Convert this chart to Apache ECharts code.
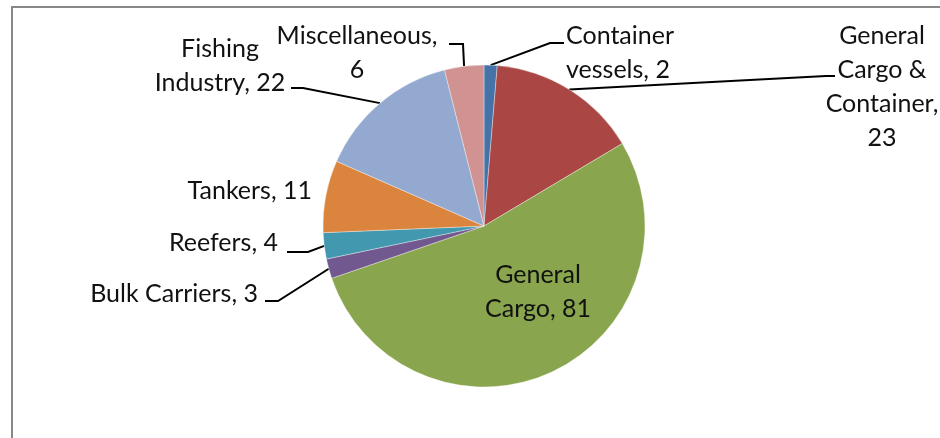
<!DOCTYPE html>
<html>
<head>
<meta charset="utf-8">
<style>
html,body{margin:0;padding:0;background:#fff;}
#chart{width:940px;height:438px;}
</style>
</head>
<body>
<div id="chart"></div>
<script src="https://cdn.jsdelivr.net/npm/echarts@6/dist/echarts.min.js"></script>
<script>
// vessel types, clockwise from 12 o'clock
var categories = ['Container\nvessels', 'General\nCargo &\nContainer', 'General\nCargo', 'Bulk Carriers', 'Reefers', 'Tankers', 'Fishing\nIndustry', 'Miscellaneous'];
var values = [2, 23, 81, 3, 4, 11, 22, 6];
var colors = ['#4572A7', '#AA4643', '#89A54E', '#71588F', '#4198AF', '#DB843D', '#93A9CF', '#D19392'];

// hand placed labels, like the excel chart (x, y, align, leader bend, leader end)
var labelSpots = [
    { x: 566, y: 53, align: 'left', bend: [550, 43], end: [564, 43] },
    { x: 882, y: 87, align: 'center', bend: [826, 76], end: [835, 76] },
    { x: 538, y: 292, align: 'center' },
    { x: 258, y: 294, align: 'right', bend: [278, 301], end: [265, 301] },
    { x: 278, y: 243, align: 'right', bend: [308, 252], end: [287, 252] },
    { x: 312, y: 191, align: 'right' },
    { x: 220, y: 66, align: 'center', bend: [303, 88], end: [291, 88] },
    { x: 357, y: 53, align: 'center', bend: [463, 44], end: [449, 44] }
];

var pieData = categories.map(function (name, i) {
    var item = { name: name, value: values[i], itemStyle: { color: colors[i] } };
    if (!labelSpots[i].bend) {
        item.labelLine = { show: false };
    }
    return item;
});

var myChart = echarts.init(document.getElementById('chart'));
var option = {
    animation: false,
    backgroundColor: '#fff',
    graphic: [{
        type: 'rect',
        shape: { x: 12, y: 7, width: 1000, height: 500 },
        style: { fill: 'none', stroke: '#888', lineWidth: 2 },
        z: -1
    }],
    series: [{
        type: 'pie',
        center: [484, 226],
        radius: 161,
        startAngle: 90,
        clockwise: true,
        avoidLabelOverlap: false,
        itemStyle: { borderColor: 'rgba(255,255,255,0.6)', borderWidth: 0.6 },
        label: {
            show: true,
            formatter: function (p) {
                var n = p.name;
                // multi-line names break after the comma in the original
                if (n === 'Miscellaneous' || n === 'General\nCargo &\nContainer') return n + ',\n' + p.value;
                return n + ', ' + p.value;
            },
            fontFamily: 'Lato',
            fontSize: 25,
            lineHeight: 34,
            color: '#111'
        },
        labelLine: {
            show: true,
            length: 10,
            length2: 10,
            lineStyle: { color: '#000', width: 2 }
        },
        labelLayout: function (params) {
            var s = labelSpots[params.dataIndex];
            var out = { x: s.x, y: s.y, align: s.align, verticalAlign: 'middle' };
            if (s.bend && params.labelLinePoints) {
                out.labelLinePoints = [params.labelLinePoints[0], s.bend, s.end];
            }
            return out;
        },
        data: pieData
    }]
};
myChart.setOption(option);
</script>
</body>
</html>
